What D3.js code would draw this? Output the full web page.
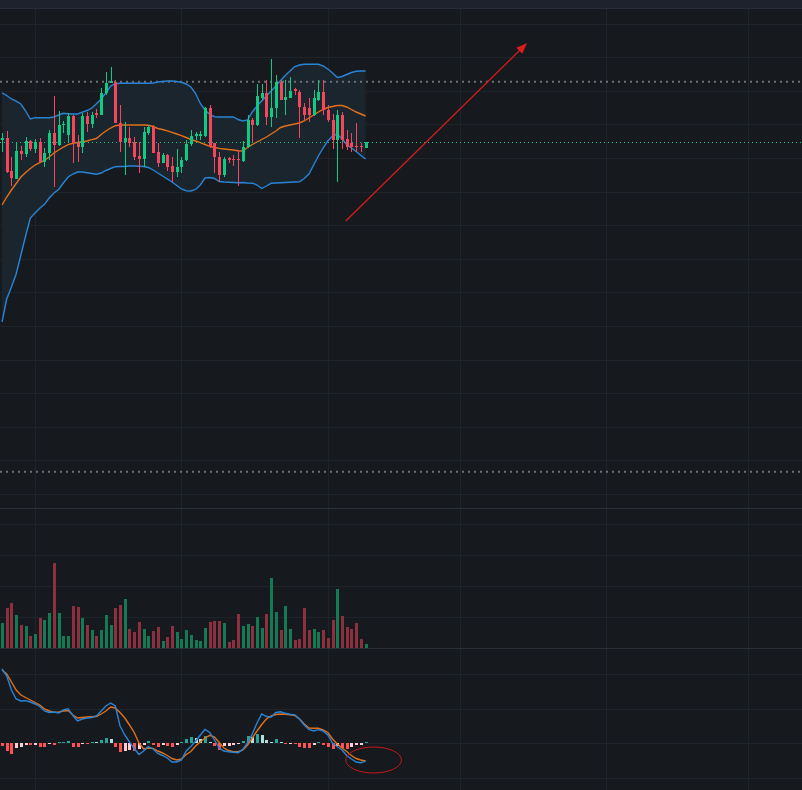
<!DOCTYPE html>
<html>
<head>
<meta charset="utf-8">
<script src="https://cdn.jsdelivr.net/npm/d3@7"></script>
<style>
  body { margin: 0; background: #161a1e; }
  svg { display: block; }
</style>
</head>
<body>
<svg id="chart" width="802" height="790"></svg>
<script>
// daily candles, first one on 2024-11-24
var startDate = new Date(Date.UTC(2024, 10, 24));

var open = [460, 462.3, 429, 421, 449.3, 445.7, 459, 450.7, 458.3, 438.3,
  447.3, 467.3, 455, 475, 465, 484, 456.7, 452.7, 484, 476,
  486.7, 485, 506.7, 517.3, 518.3, 477.3, 458.3, 462.3, 458.3, 444,
  441, 467.3, 473.3, 448.3, 437.3, 445, 434, 427.7, 432.7, 440,
  456, 464, 464, 464, 491.7, 456.7, 443.3, 425, 441.7, 440.7,
  440.7, 439, 453.3, 480, 475, 501.7, 506.7, 483.3, 491.7, 518.3,
  500, 502.3, 510.7, 507.7, 493.3, 491.7, 485, 500, 507.7, 490,
  480, 460, 485, 461, 456.7, 454, 454, 451.7];
var high = [467.3, 469, 442.7, 458.3, 454, 463.3, 460, 460.7, 461.7, 452,
  470, 504, 489.3, 479, 486.7, 485, 465, 486.7, 488.3, 488.3,
  490.7, 511.7, 528.3, 533.3, 520, 495, 478.3, 473.3, 463.3, 458.3,
  473.3, 475, 475, 456.7, 446.7, 445.7, 442.7, 450.7, 442.7, 460,
  470, 468.3, 469, 493.3, 495, 456.7, 448.3, 443.3, 443.3, 445,
  450, 459, 485, 481.7, 515.7, 515.7, 520, 541, 525, 520,
  520, 523.3, 512.3, 510, 496.7, 501.7, 510, 520, 520, 495,
  485.7, 490, 488.3, 470, 466.7, 476.7, 456.7, 457.7];
var low = [448.3, 427.3, 414, 421, 440, 443.3, 449.3, 446.7, 438.3, 433,
  440, 413.3, 454, 467.3, 458.3, 437.3, 438.3, 447.3, 468.3, 471.7,
  481.7, 485, 505, 516.7, 476.7, 448.3, 425, 452.7, 440, 426.7,
  433.3, 465, 446.7, 432.7, 436.7, 429, 418.3, 423.3, 427.3, 439.3,
  454, 460, 460, 462.7, 451.7, 426.7, 418.3, 423.3, 436.7, 434,
  414, 438.3, 451.7, 458.3, 474.3, 500, 475, 473.3, 481.7, 500,
  485, 501.7, 505, 462.3, 480, 478.3, 484.3, 499, 485, 478.3,
  451, 417.7, 451, 450, 448.3, 447.7, 447.7, 451.7];
var close = [462.3, 428.3, 421.7, 449.3, 446, 459, 450.7, 458, 438.3, 447.3,
  467.3, 455, 475, 476.5, 484, 456.7, 452.7, 484, 476, 485,
  485, 506.7, 517.3, 519.3, 477.3, 458.3, 462.3, 457.3, 443.3, 441,
  468.3, 473.3, 447.3, 437.3, 445, 433.3, 427.7, 432.7, 440, 456,
  464, 466, 465.7, 491.7, 454, 442.7, 425, 441, 440, 440,
  439.7, 453.3, 480, 475, 504.3, 506.7, 483.3, 491.7, 518.3, 500,
  503.3, 509, 509, 493.3, 485, 485, 501.7, 507.7, 490, 480,
  460, 485, 460, 453.3, 453.3, 452.7, 452.7, 457.7];
var volume = [25, 40, 45, 33, 23, 22, 12, 14, 30, 28,
  35, 85, 35, 12, 12, 42, 41, 30, 23, 18,
  12, 18, 33, 23, 40, 43, 49, 19, 16, 26,
  19, 12, 17, 21, 7, 11, 22, 16, 9, 18,
  13, 8, 7, 20, 26, 27, 27, 25, 6, 8,
  34, 22, 24, 22, 31, 20, 34, 70, 36, 18,
  42, 19, 8, 9, 40, 18, 19, 16, 18, 10,
  28, 59, 32, 21, 19, 25, 9, 4];

var bollUpper = [507.2, 504.5, 501, 498.8, 496, 489, 481, 482.3, 482.3, 482.3,
  482.3, 483, 485, 486.7, 486.3, 486, 486, 487.8, 489.5, 492,
  496.3, 501, 507, 514, 516.3, 516.7, 516.7, 516.7, 516.7, 516.7,
  516.7, 516.7, 517, 518, 518.5, 519, 519, 518.5, 517.7, 516,
  513, 506.5, 496.5, 490, 485.5, 483.3, 483, 483, 483, 483,
  480.5, 479, 480, 488, 494, 499, 504, 509, 514, 519.5,
  524.5, 529, 533.5, 535, 535.7, 535.7, 535.7, 535.7, 534, 531,
  527, 522.5, 523.5, 525.5, 527.5, 528.7, 529, 529];
var bollMid = [395, 403, 410, 416.5, 423, 427.5, 431.5, 435, 437.3, 439.7,
  443, 447, 450, 453, 455.3, 456.7, 457.5, 458.3, 459, 460.3,
  461.5, 465.5, 469, 472, 474.3, 475, 475, 475, 475, 475,
  475, 474.7, 473.5, 471.5, 470.5, 469.2, 467.7, 466, 464.3, 462.5,
  460.5, 459, 457.4, 455.5, 453.7, 452.5, 451.6, 451, 450.5, 450,
  449.2, 449, 452.5, 455.5, 458, 460.5, 463, 466, 469, 472.5,
  474, 475, 476, 477, 479, 482, 485, 488, 490.5, 492.5,
  493.5, 494.5, 494.5, 493, 490.5, 488, 486, 484];
var bollLower = [278, 301, 313, 326, 345, 364, 382, 387, 391.7, 395.7,
  402, 407, 410.5, 417, 423, 426, 428, 428, 427.2, 426.5,
  425.8, 427, 429.5, 431.5, 433.3, 433.5, 433.5, 434, 434, 433.7,
  433.5, 432.5, 430, 427, 424, 421, 418, 414.5, 411, 409.3,
  409, 410.5, 415, 422, 422.5, 421.5, 418.5, 418, 417.7, 417.5,
  417.3, 417.5, 417, 416.8, 415, 411.5, 414, 416.7, 417, 417.3,
  417.5, 417.7, 418, 418.2, 421.5, 426, 435, 444, 452, 459,
  464, 466, 461, 455.5, 452, 448.5, 444.5, 441];

var dif = [74, 67, 53, 44, 42, 42.3, 41, 39, 36.5, 32,
  30.5, 31, 30, 33, 34.3, 27.5, 22, 24, 25, 25.5,
  27, 32, 37, 40, 37, 17, 8, 1, -5.5, -11.5,
  -8, -3.5, -6, -10.5, -12.5, -15, -19, -19, -17, -8,
  -3.5, 2, 8, 13.5, 10.5, 3, -5, -8, -8.7, -9.2,
  -9.7, -6.5, 0, 9, 20, 29, 26.5, 26, 30.5, 31.2,
  29.7, 28.7, 28.2, 24, 18, 13.5, 12, 13.3, 12, 8,
  0, -3.7, -7, -12.5, -16, -19, -19.7, -18.2];
var dea = [73, 69, 61, 53, 48, 45.5, 43, 40.5, 38, 34,
  32, 30.7, 31, 32, 32.5, 28, 25, 25.5, 26, 26.3,
  26.5, 29, 32, 36, 35, 30.5, 25, 18, 10.5, 0,
  -6, -5, -5.5, -8, -10, -12.5, -15.5, -17, -16, -11.5,
  -8.5, -3, 1, 5, 7.7, 6, 0.5, -5, -7.5, -8.7,
  -8.7, -7, -2, 5, 12, 18.5, 24, 27, 28.5, 29,
  28.7, 28.3, 27.5, 24, 19, 15, 14.7, 14.7, 13, 10.5,
  4, -1, -5, -8.5, -12.5, -15.5, -17, -18];
var macdHist = [-2.7, -8.3, -10.7, -5.3, -4.3, -1.7, -2.3, -1.7, -3.7, -3.9,
  -1, -1.7, 1.3, 1.5, 2.3, -4, -4.3, -0.7, -0.9, 1.3,
  1.1, 3.3, 5.3, 4.3, -4.3, -9.3, -8.3, -7, -7.5, -6,
  -1.7, 2.3, -1.7, -3.7, -2.3, -2.7, -3.7, -1.7, 1.3, 4.3,
  6.3, 5.3, 4, 7.3, 1.3, -3.3, -6.7, -3.3, -2.7, -1.7,
  -1, 2.3, 7.3, 6, 9.3, 8.3, 3.3, 1.3, 4.3, 1.3,
  -0.7, -0.5, -0.8, -4, -4.7, -4.9, -1.7, 1.3, -2, -4,
  -6, -2.7, -5, -6, -4.3, -2.3, -1.7, 1.3];

// horizontal level lines drawn on the chart (price)
var levelLines = [518.3, 128.3];
// grid levels of the hidden axes
var priceGrid = d3.range(106, 591, 33.6);
var volumeGrid = [31, 62, 93, 124];
var macdGrid = [-34.5, 0, 34.5, 69];
// hand drawn annotations: [day index, value]
var arrowFrom = [72.8, 379], arrowTo = [111, 556];
var circleCenter = [78.7, -17], circleHalfDays = 5.9, circleHalfValue = 13;

var W = 802, H = 790;
var DAY = 864e5;
var barStep = 4.722;
var mainTop = 9, mainBottom = 508, volBottom = 648, macdBottom = 790;

var dates = open.map(function(d, i){ return d3.utcDay.offset(startDate, i); });
var candles = dates.map(function(d, i){
  return {date: d, o: open[i], h: high[i], l: low[i], c: close[i], v: volume[i], i: i};
});

var x = d3.scaleUtc()
  .domain([new Date(+startDate - 2 / barStep * DAY), new Date(+startDate + (W - 2) / barStep * DAY)])
  .range([0, W]);
function xAt(idx){ return x(new Date(+startDate + idx * DAY)); }

var y = d3.scaleLinear().domain([92, 591]).range([mainBottom, mainTop]);
var vy = d3.scaleLinear().domain([0, 140]).range([volBottom, mainBottom]);
var my = d3.scaleLinear().domain([-47, 95]).range([macdBottom, volBottom]);

var up = "#0ecb81", down = "#f6465d";

var svg = d3.select("#chart");

svg.append("rect").attr("width", W).attr("height", H).attr("fill", "#161a1e");
// top strip
svg.append("rect").attr("width", W).attr("height", 8).attr("fill", "#1e222d");
svg.append("line").attr("x1", 0).attr("x2", W).attr("y1", 8.5).attr("y2", 8.5)
  .attr("stroke", "#2a2e39").attr("stroke-width", 1);

// grid
var grid = svg.append("g").attr("stroke", "#1f232a").attr("stroke-width", 1).attr("shape-rendering", "crispEdges");
grid.selectAll(".vg").data(x.ticks(d3.utcMonth.every(1))).enter().append("line")
  .attr("x1", function(d){ return Math.round(x(d)) + 0.5; })
  .attr("x2", function(d){ return Math.round(x(d)) + 0.5; })
  .attr("y1", mainTop).attr("y2", H);
grid.selectAll(".pg").data(priceGrid).enter().append("line")
  .attr("x1", 0).attr("x2", W)
  .attr("y1", function(d){ return Math.round(y(d)) + 0.5; })
  .attr("y2", function(d){ return Math.round(y(d)) + 0.5; });
grid.selectAll(".vog").data(volumeGrid).enter().append("line")
  .attr("x1", 0).attr("x2", W)
  .attr("y1", function(d){ return Math.round(vy(d)) + 0.5; })
  .attr("y2", function(d){ return Math.round(vy(d)) + 0.5; });
grid.selectAll(".mg").data(macdGrid).enter().append("line")
  .attr("x1", 0).attr("x2", W)
  .attr("y1", function(d){ return Math.round(my(d)) + 0.5; })
  .attr("y2", function(d){ return Math.round(my(d)) + 0.5; });

// panel separators
svg.selectAll(".sep").data([mainBottom, volBottom]).enter().append("line")
  .attr("x1", 0).attr("x2", W)
  .attr("y1", function(d){ return d + 0.5; }).attr("y2", function(d){ return d + 0.5; })
  .attr("stroke", "#2b2f37").attr("stroke-width", 1);

// clip for main panel
svg.append("clipPath").attr("id", "mainClip").append("rect")
  .attr("x", 0).attr("y", mainTop).attr("width", W).attr("height", mainBottom - mainTop);
var main = svg.append("g").attr("clip-path", "url(#mainClip)");

// bollinger band fill
var area = d3.area()
  .x(function(d, i){ return x(dates[i]); })
  .y0(function(d, i){ return y(bollLower[i]); })
  .y1(function(d, i){ return y(bollUpper[i]); });
main.append("path").datum(bollUpper).attr("d", area).attr("fill", "#1b252d");

// level lines
main.selectAll(".lvl").data(levelLines).enter().append("line")
  .attr("x1", 0).attr("x2", W)
  .attr("y1", function(d){ return y(d); }).attr("y2", function(d){ return y(d); })
  .attr("stroke", "#6e7076").attr("stroke-width", 2).attr("stroke-dasharray", "2,4");

// bollinger lines
var bLine = function(arr){
  return d3.line().x(function(d, i){ return x(dates[i]); }).y(function(d){ return y(d); })(arr);
};
main.append("path").attr("d", bLine(bollUpper)).attr("fill", "none").attr("stroke", "#2a84d6").attr("stroke-width", 1.4);
main.append("path").attr("d", bLine(bollLower)).attr("fill", "none").attr("stroke", "#2a84d6").attr("stroke-width", 1.4);
main.append("path").attr("d", bLine(bollMid)).attr("fill", "none").attr("stroke", "#e2701a").attr("stroke-width", 1.4);

// last price line
var lastClose = close[close.length - 1];
main.append("line").attr("x1", 0).attr("x2", W)
  .attr("y1", Math.round(y(lastClose)) + 0.5).attr("y2", Math.round(y(lastClose)) + 0.5)
  .attr("stroke", up).attr("stroke-width", 1).attr("stroke-dasharray", "1,3");

// candles
var cg = main.append("g").attr("shape-rendering", "crispEdges");
cg.selectAll(".wick").data(candles).enter().append("line")
  .attr("x1", function(d){ return Math.round(x(d.date)) + 0.5; })
  .attr("x2", function(d){ return Math.round(x(d.date)) + 0.5; })
  .attr("y1", function(d){ return y(d.h); })
  .attr("y2", function(d){ return y(d.l); })
  .attr("stroke", function(d){ return d.c >= d.o ? up : down; });
cg.selectAll(".body").data(candles).enter().append("rect")
  .attr("x", function(d){ return Math.round(x(d.date)) - 1; })
  .attr("width", 3)
  .attr("y", function(d){ return y(Math.max(d.o, d.c)); })
  .attr("height", function(d){ return Math.max(1, Math.abs(y(d.o) - y(d.c))); })
  .attr("fill", function(d){ return d.c >= d.o ? up : down; });

// arrow annotation
svg.append("defs").append("marker").attr("id", "head")
  .attr("viewBox", "0 0 10 10").attr("refX", 9).attr("refY", 5)
  .attr("markerWidth", 9).attr("markerHeight", 9).attr("orient", "auto")
  .append("path").attr("d", "M0,1 L10,5 L0,9 Z").attr("fill", "#d91c1c");
svg.append("line")
  .attr("x1", xAt(arrowFrom[0])).attr("y1", y(arrowFrom[1]))
  .attr("x2", xAt(arrowTo[0])).attr("y2", y(arrowTo[1]))
  .attr("stroke", "#d91c1c").attr("stroke-width", 1.2).attr("marker-end", "url(#head)");

// volume
svg.append("g").attr("shape-rendering", "crispEdges")
  .selectAll("rect").data(candles).enter().append("rect")
  .attr("x", function(d){ return Math.round(x(d.date)) - 1; })
  .attr("width", 3)
  .attr("y", function(d){ return vy(d.v); })
  .attr("height", function(d){ return vy(0) - vy(d.v); })
  .attr("fill", function(d){ return d.c >= d.o ? "#137a54" : "#8c2f3e"; });

// macd histogram
function histColor(v, i){
  var prev = i > 0 ? macdHist[i - 1] : v;
  if (v >= 0) return v >= prev ? "#26a69a" : "#b2dfdb";
  return v <= prev ? "#ff5252" : "#ffcdd2";
}
svg.append("g").attr("shape-rendering", "crispEdges")
  .selectAll("rect").data(macdHist).enter().append("rect")
  .attr("x", function(d, i){ return Math.round(x(dates[i])) - 1; })
  .attr("width", 3)
  .attr("y", function(d){ return my(Math.max(0, d)); })
  .attr("height", function(d){ return Math.abs(my(d) - my(0)); })
  .attr("fill", histColor);

var mLine = d3.line().x(function(d, i){ return x(dates[i]); }).y(function(d){ return my(d); });
svg.append("path").attr("d", mLine(dea)).attr("fill", "none").attr("stroke", "#e2701a").attr("stroke-width", 1.4);
svg.append("path").attr("d", mLine(dif)).attr("fill", "none").attr("stroke", "#2a84d6").attr("stroke-width", 1.4);

// circled area in macd panel
svg.append("ellipse")
  .attr("cx", xAt(circleCenter[0])).attr("cy", my(circleCenter[1]))
  .attr("rx", xAt(circleCenter[0] + circleHalfDays) - xAt(circleCenter[0]))
  .attr("ry", my(circleCenter[1] - circleHalfValue) - my(circleCenter[1]))
  .attr("fill", "none").attr("stroke", "#c8161d").attr("stroke-width", 1);
</script>
</body>
</html>
